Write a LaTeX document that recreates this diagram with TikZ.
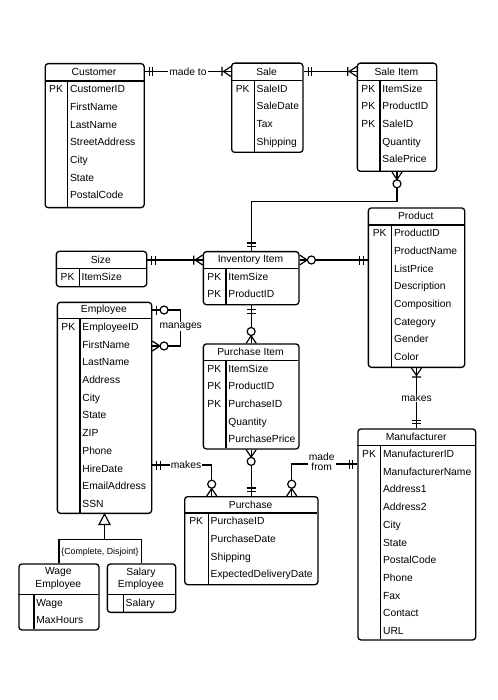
\documentclass[tikz,border=0pt]{standalone}
\usepackage{fontspec}
\setmainfont{Liberation Sans}
\usetikzlibrary{calc}
\tikzset{
  entbox/.style={draw, line width=1.3pt, rounded corners=3pt, fill=white, inner sep=0pt},
  eline/.style={line width=1.2pt},
  etitle/.style={inner sep=0pt, align=center},
  eattr/.style={anchor=west, inner xsep=2.2pt, inner ysep=0pt, text height=7.4pt, text depth=0pt},
  epk/.style={inner sep=0pt, text height=7.4pt, text depth=0pt},
  cline/.style={line width=1.2pt},
  lbl/.style={fill=white, inner xsep=1pt, inner ysep=0.5pt, align=center, font=\fontsize{10.3}{9.6}\selectfont},
  mone/.pic={\draw[cline] (4.5,-4.5) -- (4.5,4.5) (8,-4.5) -- (8,4.5);},
  monemany/.pic={\draw[cline] (0,-5) -- (7.5,0) -- (0,5) (9,-4.5) -- (9,4.5);},
  mzeromany/.pic={\draw[cline] (0,-5) -- (7.5,0) -- (0,5); \draw[cline, fill=white] (11.8,0) circle (4pt);},
  mzeroone/.pic={\draw[cline] (4.5,-4.5) -- (4.5,4.5); \draw[cline, fill=white] (11.8,0) circle (4pt);},
}
% #1 id, #2 x1, #3 y1, #4 x2, #5 y2, #6 divider x, #7 header height, #8 title, #9 rows
\newcommand\erentity[9]{%
  \pgfmathsetmacro\ew{#4-#2}%
  \pgfmathsetmacro\eh{#5-#3}%
  \pgfmathsetmacro\hb{#3+#7}%
  \node[entbox, minimum width=\ew pt, minimum height=\eh pt, anchor=north west] (#1) at (#2,#3) {};
  \draw[eline] (#2,\hb) -- (#4,\hb);
  \draw[eline] (#6,\hb) -- (#6,#5);
  \node[etitle] (#1-title) at ({(#2+#4)/2},{(#3+\hb)/2}) {#8};
  \foreach \k/\t [count=\i] in {#9} {%
    \pgfmathsetmacro\ry{\hb+8+(\i-1)*17.7}%
    \node[eattr] (#1-a\i) at (#6,\ry) {\t};
    \node[epk] (#1-k\i) at ({(#2+#6)/2},\ry) {\k};
  }%
}
\begin{document}
\begin{tikzpicture}[x=1pt, y=-1pt, font=\fontsize{10.3}{12.6}\selectfont]
\useasboundingbox[fill=white] (0,0) rectangle (497,700);

\erentity{cust}{44.5}{63}{143.5}{207}{67.7}{18}{Customer}{PK/CustomerID,{}/FirstName,{}/LastName,{}/StreetAddress,{}/City,{}/State,{}/PostalCode}
\erentity{sale}{231}{62.5}{302.3}{151.7}{254.3}{18}{Sale}{PK/SaleID,{}/SaleDate,{}/Tax,{}/Shipping}
\erentity{sitem}{356.7}{62.5}{436}{170.7}{380}{18}{Sale Item}{PK/ItemSize,PK/ProductID,PK/SaleID,{}/Quantity,{}/SalePrice}
\erentity{size}{55.7}{250.7}{146}{286}{79.3}{18}{Size}{PK/ItemSize}
\erentity{inv}{202.7}{251}{298.3}{304}{226}{17.5}{Inventory Item}{PK/ItemSize,PK/ProductID}
\erentity{prod}{367.7}{207.3}{464}{366.7}{391.7}{17.7}{Product}{PK/ProductID,{}/ProductName,{}/ListPrice,{}/Description,{}/Composition,{}/Category,{}/Gender,{}/Color}
\erentity{emp}{56.7}{301.7}{151}{512.7}{80}{17}{Employee}{PK/EmployeeID,{}/FirstName,{}/LastName,{}/Address,{}/City,{}/State,{}/ZIP,{}/Phone,{}/HireDate,{}/EmailAddress,{}/SSN}
\erentity{pitem}{202.7}{343.3}{298.3}{448.3}{226}{17}{Purchase Item}{PK/ItemSize,PK/ProductID,PK/PurchaseID,{}/Quantity,{}/PurchasePrice}
\erentity{purch}{184}{496}{317.3}{584}{208.3}{17}{Purchase}{PK/PurchaseID,{}/PurchaseDate,{}/Shipping,{}/ExpectedDeliveryDate}
\erentity{manu}{357.3}{428.3}{475}{639.3}{380.7}{17.5}{Manufacturer}{PK/ManufacturerID,{}/ManufacturerName,{}/Address1,{}/Address2,{}/City,{}/State,{}/PostalCode,{}/Phone,{}/Fax,{}/Contact,{}/URL}
\erentity{wage}{18.3}{563.3}{98.3}{629.3}{34}{31}{Wage\\Employee}{{}/Wage,{}/MaxHours}
\erentity{salary}{106.7}{563.3}{175}{611.7}{123.3}{31}{Salary\\Employee}{{}/Salary}

% helper coordinates for bends
\coordinate (mk) at (211.7,465);
\coordinate (mf) at (291.7,464);
\coordinate (mg1) at (180.7,310);
\coordinate (mg2) at (180.7,346);

% connectors
\draw[cline] (cust.east |- 0,71.5) -- node[lbl] {made to} (sale.west |- 0,71.5);
\draw[cline] (sale.east |- 0,71.5) -- (sitem.west |- 0,71.5);
\draw[cline] (sitem.south) -- ++(0,29.3) -| (inv.north);
\draw[cline] (size.east |- 0,260) -- (inv.west |- 0,260);
\draw[cline] (inv.east |- 0,260) -- (prod.west |- 0,260);
\draw[cline] (inv.south) -- (inv.south |- pitem.north);
\draw[cline] (pitem.south) -- (pitem.south |- purch.north);
\draw[cline] (prod.south) -- node[lbl] {makes} (prod.south |- manu.north);
\draw[cline] (emp.east |- mk) -- (mk) -- (mk |- purch.north);
\node[lbl] (lmakes) at (186,465) {makes};
\draw[cline] (manu.west |- mf) -- (mf) -- (mf |- purch.north);
\node[lbl] (lmadefrom) at (321.7,461.8) {made\\from};
\draw[cline] (emp.east |- mg1) -- (mg1) -- (mg2) -- (emp.east |- mg2);
\node[lbl] (lmanages) at (180.7,326.7) {manages};

% generalization
\coordinate (gj) at (104,539.3);
\draw[cline, fill=white] (emp.south) -- ++(-5.5,10.5) -- ++(11,0) -- cycle;
\coordinate (gbase) at ($(emp.south)+(0,10.5)$);
\draw[cline] (gbase) -- (gbase |- gj);
\draw[cline] (wage.north) |- (gj) -| (salary.north);
\node[font=\fontsize{8.8}{10}\selectfont, inner sep=0pt] (gl) at (100,552.7) {\{Complete, Disjoint\}};

% end markers
\path (cust.east |- 0,71.5) pic{mone};
\path (sale.west |- 0,71.5) pic[rotate=180]{monemany};
\path (sale.east |- 0,71.5) pic{mone};
\path (sitem.west |- 0,71.5) pic[rotate=180]{monemany};
\path (sitem.south) pic[rotate=-90]{mzeromany};
\path (inv.north) pic[rotate=90]{mone};
\path (size.east |- 0,260) pic{mone};
\path (inv.west |- 0,260) pic[rotate=180]{monemany};
\path (inv.east |- 0,260) pic{mzeromany};
\path (prod.west |- 0,260) pic[rotate=180]{mone};
\path (inv.south) pic[rotate=-90]{mone};
\path (inv.south |- pitem.north) pic[rotate=90]{mzeromany};
\path (pitem.south) pic[rotate=-90]{mzeromany};
\path (pitem.south |- purch.north) pic[rotate=90]{mone};
\path (prod.south) pic[rotate=-90]{monemany};
\path (prod.south |- manu.north) pic[rotate=90]{mone};
\path (emp.east |- mk) pic{mone};
\path (mk |- purch.north) pic[rotate=90]{mzeromany};
\path (manu.west |- mf) pic[rotate=180]{mone};
\path (mf |- purch.north) pic[rotate=90]{mzeromany};
\path (emp.east |- mg1) pic{mzeroone};
\path (emp.east |- mg2) pic{mzeromany};
\end{tikzpicture}
\end{document}
